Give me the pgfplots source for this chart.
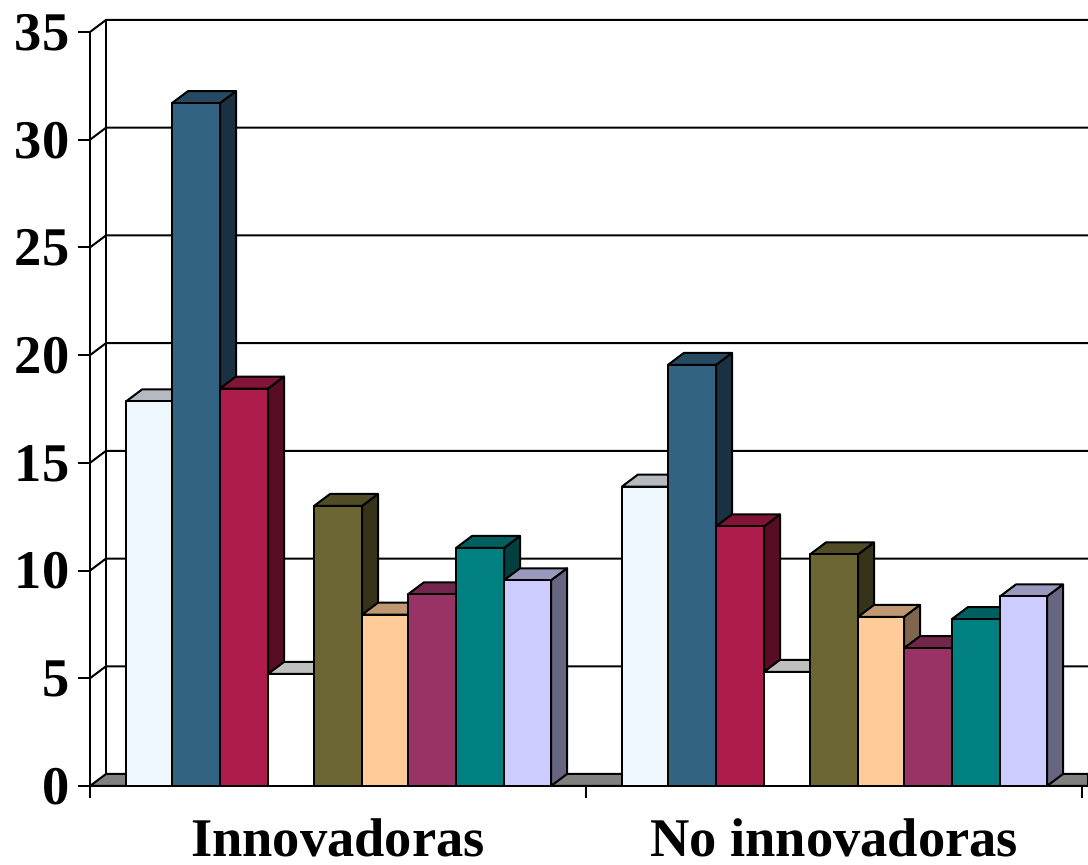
\documentclass[border=0pt]{standalone}
\usepackage{fontspec}
\setmainfont{Liberation Serif}
\usepackage{pgfplots}
\pgfplotsset{compat=1.18}

% depth of the 3d look, in axis units (16 px across, 12 px up)
\def\dx{16}
\def\dy{0.557}

\definecolor{cpale}{HTML}{F0F8FF}
\definecolor{cblue}{HTML}{336382}
\definecolor{ccrim}{HTML}{AD1C4A}
\definecolor{cwhite}{HTML}{FFFFFF}
\definecolor{colive}{HTML}{6B6633}
\definecolor{cpeach}{HTML}{FFCC99}
\definecolor{cplum}{HTML}{993366}
\definecolor{cteal}{HTML}{008080}
\definecolor{clav}{HTML}{CCCCFF}

% one box: left edge, right edge, value, colour
\newcommand{\cube}[4]{%
  \pgfmathsetmacro{\xb}{#2+\dx}%
  \pgfmathsetmacro{\xc}{#1+\dx}%
  \pgfmathsetmacro{\yb}{#3+\dy}%
  \addplot[fill=#4!50!black] coordinates {(#2,0) (#2,#3) (\xb,\yb) (\xb,\dy)} -- cycle;
  \addplot[fill=#4!75!black] coordinates {(#1,#3) (\xc,\yb) (\xb,\yb) (#2,#3)} -- cycle;
  \addplot[fill=#4] coordinates {(#1,0) (#1,#3) (#2,#3) (#2,0)} -- cycle;
}
\newcommand{\gridrow}[1]{%
  \pgfmathsetmacro{\yb}{#1+\dy}%
  \addplot[fill=none] coordinates {(90,#1) (106,\yb) (1088,\yb)};
}

\begin{document}
\begin{tikzpicture}
\useasboundingbox (0pt,0pt) rectangle (1088pt,865pt);
\begin{axis}[
    at={(90pt,79pt)}, anchor=south west,
    scale only axis, width=998pt, height=754pt,
    xmin=90, xmax=1088,
    ymin=0, ymax=35,
    clip=false,
    axis lines=left,
    axis line style={-, line width=2pt},
    every tick/.style={black, line width=2pt},
    tick align=outside,
    major tick length=12pt,
    xtick={90,586,1082},
    xticklabels={},
    extra x ticks={338,834},
    extra x tick labels={Innovadoras,No innovadoras},
    extra x tick style={major tick length=0pt},
    ytick={0,5,10,15,20,25,30,35},
    tick label style={font=\fontsize{54.5}{60}\selectfont\bfseries},
    x tick label style={yshift=-29pt},
    y tick label style={xshift=-5pt, yshift=-0.5pt},
    /pgf/number format/assume math mode=true,
    every axis plot/.append style={draw=black, line width=2pt, line join=round, mark=none},
]

% floor and back wall
\addplot[fill=black!50] coordinates {(90,0) (106,0.557) (1088,0.557) (1088,0)} -- cycle;
\addplot[fill=none] coordinates {(106,0.557) (106,35.557) (1088,35.557)};
\gridrow{5}
\gridrow{10}
\gridrow{15}
\gridrow{20}
\gridrow{25}
\gridrow{30}
\gridrow{35}

% left to right so that each box covers the side of the one before
\cube{126}{172}{17.85}{cpale}
\cube{622}{668}{13.9}{cpale}
\cube{172}{220}{31.7}{cblue}
\cube{668}{716}{19.55}{cblue}
\cube{220}{268}{18.45}{ccrim}
\cube{716}{764}{12.05}{ccrim}
\cube{268}{314}{5.2}{cwhite}
\cube{764}{810}{5.3}{cwhite}
\cube{314}{362}{13.0}{colive}
\cube{810}{858}{10.75}{colive}
\cube{362}{408}{7.95}{cpeach}
\cube{858}{904}{7.85}{cpeach}
\cube{408}{456}{8.9}{cplum}
\cube{904}{952}{6.4}{cplum}
\cube{456}{504}{11.05}{cteal}
\cube{952}{1000}{7.75}{cteal}
\cube{504}{551}{9.55}{clav}
\cube{1000}{1047}{8.8}{clav}

\end{axis}
\end{tikzpicture}
\end{document}
